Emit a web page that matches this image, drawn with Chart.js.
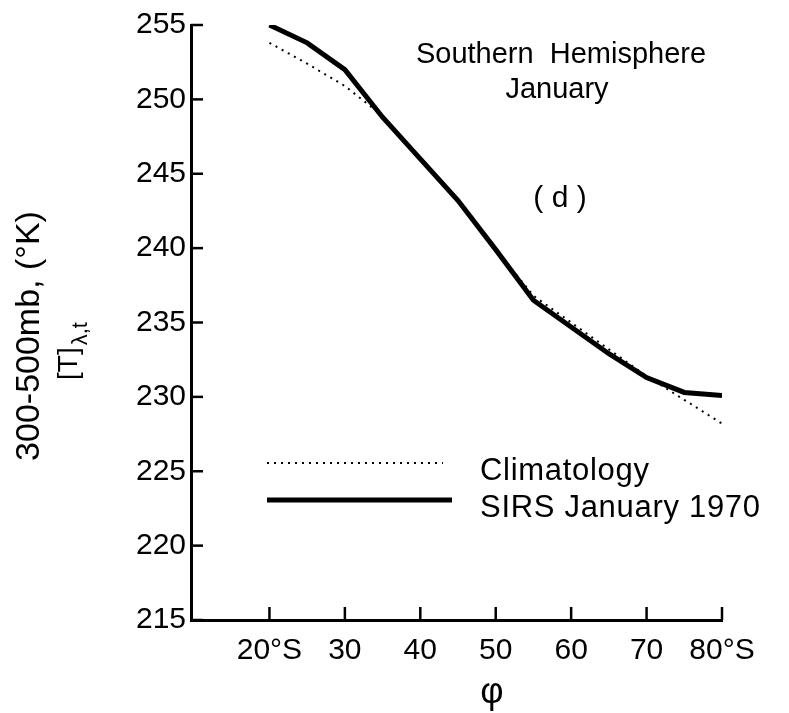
<!DOCTYPE html>
<html>
<head>
<meta charset="utf-8">
<script src="https://cdn.jsdelivr.net/npm/chart.js@4"></script>
<style>
  html, body { margin: 0; padding: 0; background: #fff; }
</style>
</head>
<body>
<canvas id="myChart" width="789" height="713"></canvas>
<script>
/* DATA */
const latitudes = [20, 25, 30, 35, 40, 45, 50, 55, 60, 65, 70, 75, 80]
const climatology = [253.8, 252.4, 250.9, 248.9, 246.0, 243.2, 239.9, 236.8, 235.0, 233.2, 231.4, 229.8, 228.2]
const sirs = [255.0, 253.8, 252.0, 248.8, 246.0, 243.2, 239.9, 236.5, 234.7, 232.9, 231.3, 230.3, 230.1]
const xTicks = [20, 30, 40, 50, 60, 70, 80]
const xTickLabels = ['20°S', '30', '40', '50', '60', '70', '80°S']
const yTicks = [215, 220, 225, 230, 235, 240, 245, 250, 255]
const seriesNames = ['Climatology', 'SIRS January 1970']

const FONT = '"Liberation Sans", Arial, sans-serif'

/* axis ticks drawn inward, legend and labels */
const decorations = {
  id: 'decorations',
  afterDraw(chart) {
    const { ctx, chartArea: area } = chart
    const x = chart.scales.x, y = chart.scales.y
    ctx.save()
    ctx.strokeStyle = '#000'
    ctx.fillStyle = '#000'
    ctx.lineWidth = 2.5
    ctx.lineCap = 'butt'

    yTicks.forEach(v => {
      const py = y.getPixelForValue(v)
      ctx.beginPath()
      ctx.moveTo(area.left, py)
      ctx.lineTo(area.left + 12, py)
      ctx.stroke()
    })
    xTicks.forEach(v => {
      const px = x.getPixelForValue(v)
      ctx.beginPath()
      ctx.moveTo(px, area.bottom)
      ctx.lineTo(px, area.bottom - 13)
      ctx.stroke()
    })

    // legend
    const ds = chart.data.datasets
    const rows = [463, 500]
    ds.forEach((d, i) => {
      ctx.save()
      ctx.strokeStyle = d.borderColor
      ctx.lineWidth = d.borderWidth
      ctx.setLineDash(d.borderDash || [])
      ctx.beginPath()
      ctx.moveTo(267, rows[i])
      ctx.lineTo(i === 0 ? 443 : 452, rows[i])
      ctx.stroke()
      ctx.restore()
      ctx.save()
      ctx.font = '31px ' + FONT
      ctx.letterSpacing = '0.7px'
      ctx.textAlign = 'left'
      ctx.textBaseline = 'alphabetic'
      ctx.fillText(d.label, 480, rows[i] + 17)
      ctx.restore()
    })

    // panel text
    ctx.font = '29px ' + FONT
    ctx.textAlign = 'center'
    ctx.textBaseline = 'alphabetic'
    ctx.fillText('Southern  Hemisphere', 561, 63)
    ctx.fillText('January', 557, 98)
    ctx.font = '30px ' + FONT
    ctx.fillText('( d )', 560, 207)

    // x title
    ctx.font = '36px ' + FONT
    ctx.textBaseline = 'middle'
    ctx.fillText('φ', 492, 693)

    // y title, two rotated lines
    ctx.save()
    ctx.translate(30, 336)
    ctx.rotate(-Math.PI / 2)
    ctx.font = '34px ' + FONT
    ctx.textAlign = 'center'
    ctx.textBaseline = 'middle'
    ctx.fillText('300-500mb, (°K)', 0, 0)
    ctx.restore()

    ctx.save()
    ctx.translate(72, 352)
    ctx.rotate(-Math.PI / 2)
    ctx.font = '28px ' + FONT
    const main = '[T]'
    const sub = 'λ,t'
    const w1 = ctx.measureText(main).width
    ctx.font = '22px ' + FONT
    const w2 = ctx.measureText(sub).width
    const start = -(w1 + w2) / 2
    ctx.textAlign = 'left'
    ctx.textBaseline = 'middle'
    ctx.font = '28px ' + FONT
    ctx.fillText(main, start, -3)
    ctx.font = '22px ' + FONT
    ctx.fillText(sub, start + w1 + 2, 9)
    ctx.restore()

    ctx.restore()
  }
}

const ctx = document.getElementById('myChart').getContext('2d')
const myChart = new Chart(ctx, {
  type: 'line',
  data: {
    labels: latitudes,
    datasets: [{
      label: seriesNames[0],
      data: latitudes.map((v, i) => ({ x: v, y: climatology[i] })),
      borderColor: '#000',
      borderWidth: 2,
      borderDash: [2, 5],
      pointRadius: 0,
      tension: 0
    }, {
      label: seriesNames[1],
      data: latitudes.map((v, i) => ({ x: v, y: sirs[i] })),
      borderColor: '#000',
      borderWidth: 5,
      pointRadius: 0,
      tension: 0
    }]
  },
  options: {
    responsive: false,
    animation: false,
    devicePixelRatio: 1,
    layout: { padding: { top: 25, right: 67, left: 0, bottom: 0 } },
    plugins: {
      legend: { display: false },
      tooltip: { enabled: false }
    },
    scales: {
      x: {
        type: 'linear',
        min: 9.6,
        max: 80,
        afterBuildTicks: scale => { scale.ticks = xTicks.map(v => ({ value: v })) },
        afterFit: scale => { scale.height = 93 },
        grid: { display: false, drawTicks: false },
        border: { display: true, width: 3, color: '#000' },
        ticks: {
          padding: 13,
          color: '#000',
          maxRotation: 0,
          autoSkip: false,
          font: { family: FONT, size: 30 },
          callback: v => xTickLabels[xTicks.indexOf(v)]
        }
      },
      y: {
        min: 215,
        max: 255,
        afterBuildTicks: scale => { scale.ticks = yTicks.map(v => ({ value: v })) },
        afterFit: scale => { scale.width = 191 },
        grid: { display: false, drawTicks: false },
        border: { display: true, width: 3, color: '#000' },
        ticks: {
          padding: 5,
          color: '#000',
          font: { family: FONT, size: 30 }
        }
      }
    }
  },
  plugins: [decorations]
})
</script>
</body>
</html>
